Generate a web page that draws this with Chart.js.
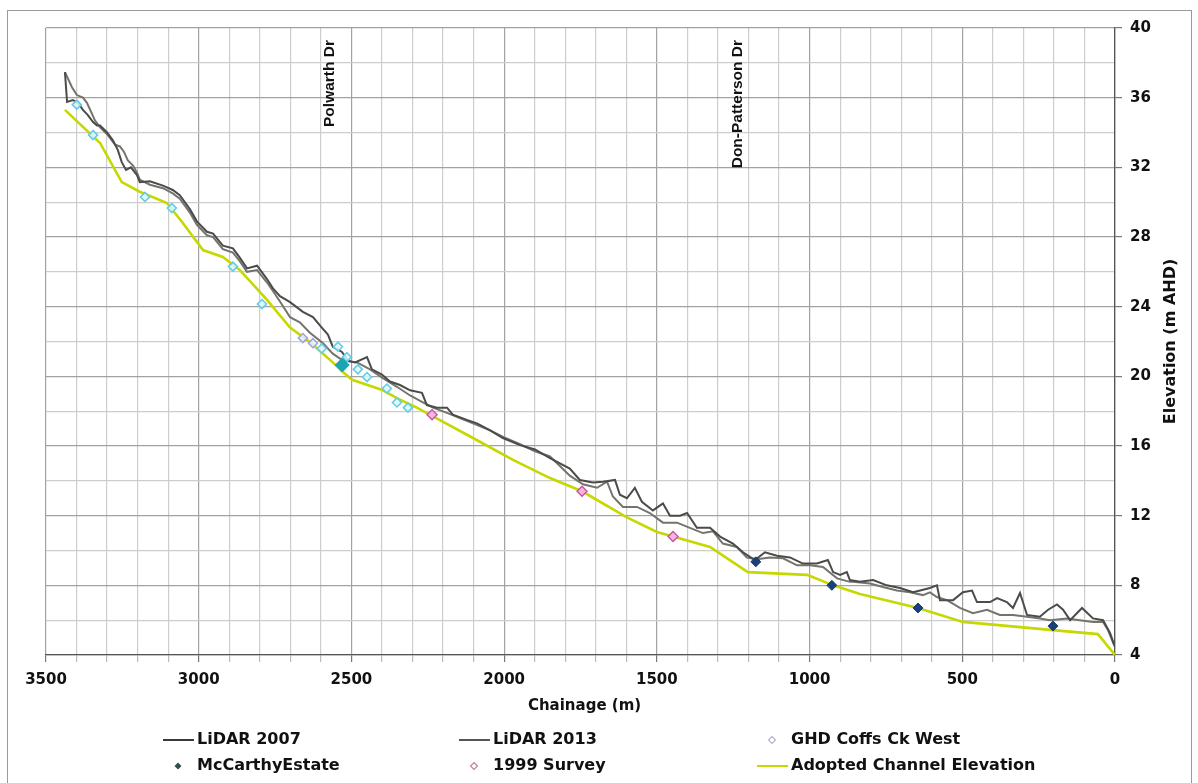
<!DOCTYPE html>
<html><head><meta charset="utf-8">
<script src="https://cdn.jsdelivr.net/npm/chart.js@4"></script>
<style>
html,body{margin:0;padding:0;background:#fff;}
#wrap{position:relative;width:1198px;height:783px;overflow:hidden;}
#frame{position:absolute;left:7px;top:10px;width:1183px;height:800px;border:1.5px solid #9a9a9a;pointer-events:none;}
canvas{position:absolute;left:0;top:0;}
</style></head><body>
<div id="wrap"><canvas id="c" width="1198" height="783"></canvas><div id="frame"></div></div>
<script>
// ---------- DATA ----------
const lidar2007Chainage = [3438,3431,3412,3395,3379,3363,3346,3333,3323,3300,3281,3265,3252,3238,3222,3202,3193,3160,3117,3085,3062,3029,3006,2973,2953,2921,2888,2865,2842,2809,2777,2757,2734,2701,2659,2626,2597,2577,2561,2531,2511,2488,2449,2433,2400,2374,2341,2308,2269,2253,2220,2187,2168,2122,2089,2046,2004,1948,1899,1850,1785,1752,1709,1676,1637,1621,1598,1572,1549,1513,1480,1457,1424,1401,1369,1326,1293,1251,1218,1179,1146,1107,1064,1022,976,940,923,900,878,868,835,792,747,704,661,638,606,583,573,530,498,468,452,409,386,354,334,311,288,246,219,190,170,147,108,72,39,16,0];
const lidar2007Elev     = [37.47,35.75,35.86,35.7,35.3,35.0,34.6,34.4,34.4,34.0,33.55,33.0,32.3,31.85,32.0,31.55,31.15,31.2,30.95,30.7,30.4,29.6,28.9,28.3,28.2,27.5,27.35,26.8,26.2,26.35,25.6,25.05,24.6,24.26,23.7,23.4,22.8,22.4,21.7,21.4,20.9,20.8,21.1,20.4,20.1,19.7,19.5,19.2,19.05,18.35,18.2,18.2,17.8,17.5,17.3,16.9,16.46,16.05,15.8,15.3,14.7,14.05,13.9,13.95,14.05,13.2,13.0,13.6,12.8,12.3,12.7,12.0,12.0,12.15,11.3,11.3,10.8,10.4,9.9,9.45,9.9,9.7,9.6,9.25,9.25,9.45,8.76,8.6,8.76,8.3,8.2,8.3,8.0,7.85,7.6,7.7,7.85,8.0,7.15,7.15,7.6,7.7,7.04,7.04,7.27,7.04,6.7,7.56,6.3,6.2,6.6,6.9,6.6,6.0,6.7,6.1,6.0,5.26,4.46];

const lidar2013Chainage = [3438,3415,3399,3379,3366,3350,3340,3323,3300,3274,3258,3245,3232,3215,3202,3193,3160,3117,3085,3062,3029,3006,2973,2953,2921,2888,2865,2842,2809,2777,2757,2734,2701,2669,2636,2593,2561,2528,2482,2439,2397,2351,2308,2266,2233,2187,2145,2102,2046,2000,1948,1899,1850,1820,1785,1742,1696,1663,1644,1611,1565,1523,1480,1434,1392,1349,1316,1284,1238,1205,1172,1130,1087,1041,999,956,910,868,858,802,760,714,671,629,606,583,550,508,465,419,377,334,288,246,213,157,115,72,39,23,3];
const lidar2013Elev     = [37.47,36.6,36.15,36.0,35.7,35.1,34.7,34.3,33.9,33.3,33.2,32.9,32.4,32.1,31.7,31.3,31.0,30.8,30.5,30.2,29.4,28.7,28.1,28.0,27.3,27.1,26.6,26.0,26.1,25.4,24.9,24.3,23.4,23.1,22.5,21.9,21.3,20.9,20.8,20.4,19.9,19.4,18.9,18.5,18.2,17.9,17.6,17.3,16.9,16.5,16.1,15.7,15.4,14.9,14.3,13.8,13.6,13.95,13.1,12.5,12.5,12.15,11.6,11.6,11.3,11.0,11.1,10.4,10.2,9.6,9.5,9.6,9.55,9.15,9.15,9.05,8.4,8.2,8.2,8.1,7.9,7.7,7.6,7.44,7.6,7.33,7.15,6.7,6.4,6.6,6.3,6.3,6.2,6.1,6.0,6.1,6.0,5.9,5.9,5.43,4.57];

const adoptedChainage = [3438,3323,3252,3193,3104,3052,2986,2921,2865,2777,2701,2636,2593,2561,2528,2498,2430,2397,2351,2286,2233,2102,1971,1850,1745,1598,1500,1447,1326,1202,1008,923,835,645,498,203,56,0];
const adoptedElev     = [35.3,33.4,31.15,30.6,29.95,28.8,27.25,26.85,26.1,24.4,22.8,21.97,21.3,20.8,20.25,19.8,19.4,19.2,18.75,18.2,17.7,16.46,15.2,14.16,13.4,11.9,11.06,10.8,10.2,8.76,8.6,8.0,7.5,6.7,5.9,5.43,5.2,4.0];

const ghdChainage = [2659,2626,3399,3346,3176,3088,2888,2793,2597,2544,2515,2479,2449,2384,2351,2315];
const ghdElev     = [22.2,21.9,35.6,33.85,30.3,29.66,26.3,24.15,21.6,21.7,21.1,20.4,19.96,19.3,18.5,18.2];

const mccarthyChainage = [1176,927,645,203,2530];
const mccarthyElev     = [9.35,8.0,6.7,5.66,20.65];

const survey1999Chainage = [2236,1745,1447];
const survey1999Elev     = [17.8,13.4,10.8];

const roadNames    = ['Polwarth Dr','Don-Patterson Dr'];
const roadChainage = [2570,1234];

const xTitle = 'Chainage (m)';
const yTitle = 'Elevation (m AHD)';

// ---------- CHART ----------
const FONT = '"DejaVu Sans", sans-serif';
const pts = (xs, ys) => xs.map((x, i) => ({x: x, y: ys[i]}));

const ghdBorder = ghdChainage.map((c, i) => i < 2 ? '#a9a0dc' : '#62cde4');
const mcBg = mccarthyChainage.map((c, i) => i === 4 ? '#1aa5b5' : '#1d3f78');
const mcRadius = mccarthyChainage.map((c, i) => i === 4 ? 7 : 5);

const datasets = [
  {label:'LiDAR 2007', data:pts(lidar2007Chainage, lidar2007Elev), showLine:true, borderColor:'#4b4b4b', borderWidth:2, pointRadius:0, order:3, legendType:'line', legendColor:'#3a3a3a'},
  {label:'LiDAR 2013', data:pts(lidar2013Chainage, lidar2013Elev), showLine:true, borderColor:'#74746c', borderWidth:2, pointRadius:0, order:4, legendType:'line', legendColor:'#555555'},
  {label:'GHD Coffs Ck West', data:pts(ghdChainage, ghdElev), showLine:false, pointStyle:'rectRot', pointRadius:4.5, pointBorderColor:ghdBorder, pointBackgroundColor:'rgba(225,246,252,0.85)', pointBorderWidth:1.6, order:1, legendType:'hollow', legendColor:'#b4b0d0'},
  {label:'McCarthyEstate', data:pts(mccarthyChainage, mccarthyElev), showLine:false, pointStyle:'rectRot', pointRadius:mcRadius, pointBorderColor:mcBg, pointBackgroundColor:mcBg, pointBorderWidth:1, order:0, legendType:'filled', legendColor:'#2f4f4f'},
  {label:'1999 Survey', data:pts(survey1999Chainage, survey1999Elev), showLine:false, pointStyle:'rectRot', pointRadius:5, pointBorderColor:'#c8559c', pointBackgroundColor:'#f3b6e4', pointBorderWidth:1.4, order:0, legendType:'hollow', legendColor:'#c0809c'},
  {label:'Adopted Channel Elevation', data:pts(adoptedChainage, adoptedElev), showLine:true, borderColor:'#c5d800', borderWidth:2.6, pointRadius:0, order:5, legendType:'line', legendColor:'#c5d800'}
];

const legendSlots = [
  {x:163, y:740}, {x:459, y:740}, {x:757, y:740},
  {x:163, y:766}, {x:459, y:766}, {x:757, y:766}
];
const legendOrder = [0, 1, 2, 3, 4, 5];

const extras = {
  id:'extras',
  afterDraw(chart) {
    const ctx = chart.ctx;
    const xs = chart.scales.x, ys = chart.scales.y;
    ctx.save();
    // road annotations
    ctx.fillStyle = '#111';
    ctx.font = 'bold 15.5px "Liberation Sans", Arial, sans-serif';
    ctx.textAlign = 'right';
    ctx.textBaseline = 'middle';
    roadNames.forEach((name, i) => {
      const px = xs.getPixelForValue(roadChainage[i]);
      ctx.save();
      ctx.translate(px, 40);
      ctx.rotate(-Math.PI / 2);
      ctx.fillText(name, 0, 0);
      ctx.restore();
    });
    // axis titles
    ctx.font = 'bold 15px ' + FONT;
    ctx.textAlign = 'center';
    ctx.fillText(xTitle, (xs.left + xs.right) / 2 + 4, 706);
    ctx.save();
    ctx.translate(1171, (ys.top + ys.bottom) / 2);
    ctx.rotate(-Math.PI / 2);
    ctx.font = 'bold 16px ' + FONT;
    ctx.fillText(yTitle, 0, 0);
    ctx.restore();
    // legend
    ctx.font = 'bold 16px ' + FONT;
    ctx.textAlign = 'left';
    legendOrder.forEach((di, k) => {
      const ds = chart.data.datasets[di];
      const s = legendSlots[k];
      if (ds.legendType === 'line') {
        ctx.strokeStyle = ds.legendColor;
        ctx.lineWidth = 2;
        ctx.beginPath();
        ctx.moveTo(s.x, s.y);
        ctx.lineTo(s.x + 31, s.y);
        ctx.stroke();
      } else {
        const cx = s.x + 15, cy = s.y, r = 3.5;
        ctx.beginPath();
        ctx.moveTo(cx, cy - r); ctx.lineTo(cx + r, cy); ctx.lineTo(cx, cy + r); ctx.lineTo(cx - r, cy); ctx.closePath();
        if (ds.legendType === 'filled') { ctx.fillStyle = ds.legendColor; ctx.fill(); }
        else { ctx.fillStyle = '#fff'; ctx.fill(); ctx.strokeStyle = ds.legendColor; ctx.lineWidth = 1.2; ctx.stroke(); }
      }
      ctx.fillStyle = '#111';
      ctx.fillText(ds.label, s.x + 34, s.y);
    });
    ctx.restore();
  }
};

new Chart(document.getElementById('c').getContext('2d'), {
  type:'scatter',
  data:{datasets:datasets},
  options:{
    responsive:false, animation:false, devicePixelRatio:1,
    layout:{padding:{left:46, top:28, right:0, bottom:0}},
    plugins:{legend:{display:false}, tooltip:{enabled:false}},
    scales:{
      x:{type:'linear', position:'bottom', reverse:true, min:0, max:3500,
        afterFit:s => { s.height = 128; },
        ticks:{stepSize:100, autoSkip:false, maxRotation:0, includeBounds:true, color:'#111', padding:9,
          font:{family:FONT, size:15, weight:'bold'},
          callback:v => (v % 500 === 0 ? String(v) : '')},
        grid:{color:c => (c.tick && c.tick.value % 500 === 0 ? '#a2a2a2' : '#cdcdcd'), lineWidth:1.2, tickLength:7,
          tickColor:c => (c.tick && c.tick.value % 500 === 0 ? '#777' : '#bbb')},
        border:{color:'#555', width:1.3}
      },
      y:{type:'linear', position:'right', min:4, max:40,
        afterFit:s => { s.width = 83; },
        ticks:{stepSize:2, autoSkip:false, color:'#111', padding:8,
          font:{family:FONT, size:15, weight:'bold'},
          callback:v => (v % 4 === 0 ? String(v) : '')},
        grid:{color:c => (c.tick && c.tick.value % 4 === 0 ? '#a2a2a2' : '#cdcdcd'), lineWidth:1.2, tickLength:7,
          tickColor:c => (c.tick && c.tick.value % 4 === 0 ? '#777' : 'rgba(0,0,0,0)')},
        border:{color:'#555', width:1.3}
      }
    }
  },
  plugins:[extras]
});
</script>
</body></html>
